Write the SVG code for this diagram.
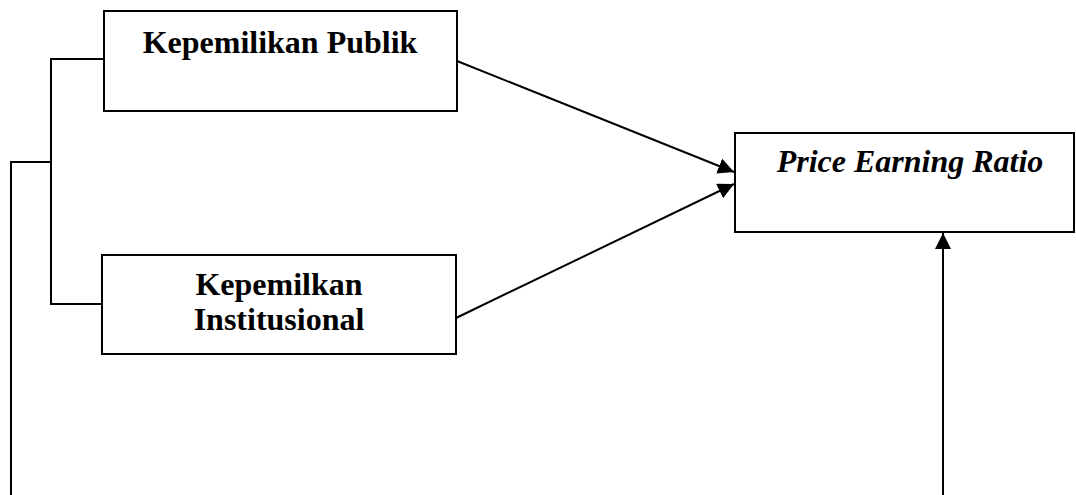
<svg xmlns="http://www.w3.org/2000/svg" width="1076" height="495" viewBox="0 0 1076 495">
<style>
.box{fill:#fff;stroke:#000;stroke-width:2}
.t{font-family:"Liberation Serif","Times New Roman",serif;font-weight:bold;font-size:32px;fill:#000;text-anchor:middle}
.i{font-style:italic}
.c{fill:none;stroke:#000;stroke-width:2}
</style>
<defs>
<marker id="ah" markerUnits="userSpaceOnUse" markerWidth="17" markerHeight="17" refX="16" refY="8" orient="auto">
<path d="M0,0 L16,8 L0,16 z" fill="#000"/>
</marker>
</defs>
<rect width="1076" height="495" fill="#fff"/>
<g id="connectors">
<polyline class="c" points="104,59 51,59 51,304 102,304"/>
<polyline class="c" points="51,162 11,162 11,495"/>
<line class="c" x1="457" y1="61" x2="734" y2="172" marker-end="url(#ah)"/>
<line class="c" x1="456" y1="318" x2="734" y2="184" marker-end="url(#ah)"/>
<line class="c" x1="943" y1="495" x2="943" y2="233" marker-end="url(#ah)"/>
</g>
<g id="node-publik">
<rect class="box" x="104" y="11" width="353" height="100"/>
<text class="t" x="280" y="53">Kepemilikan Publik</text>
</g>
<g id="node-institusional">
<rect class="box" x="102" y="255" width="354" height="99"/>
<text class="t" x="279" y="295">Kepemilkan</text>
<text class="t" x="279" y="330">Institusional</text>
</g>
<g id="node-per">
<rect class="box" x="735" y="133" width="339" height="99"/>
<text class="t i" x="910" y="172">Price Earning Ratio</text>
</g>
</svg>
